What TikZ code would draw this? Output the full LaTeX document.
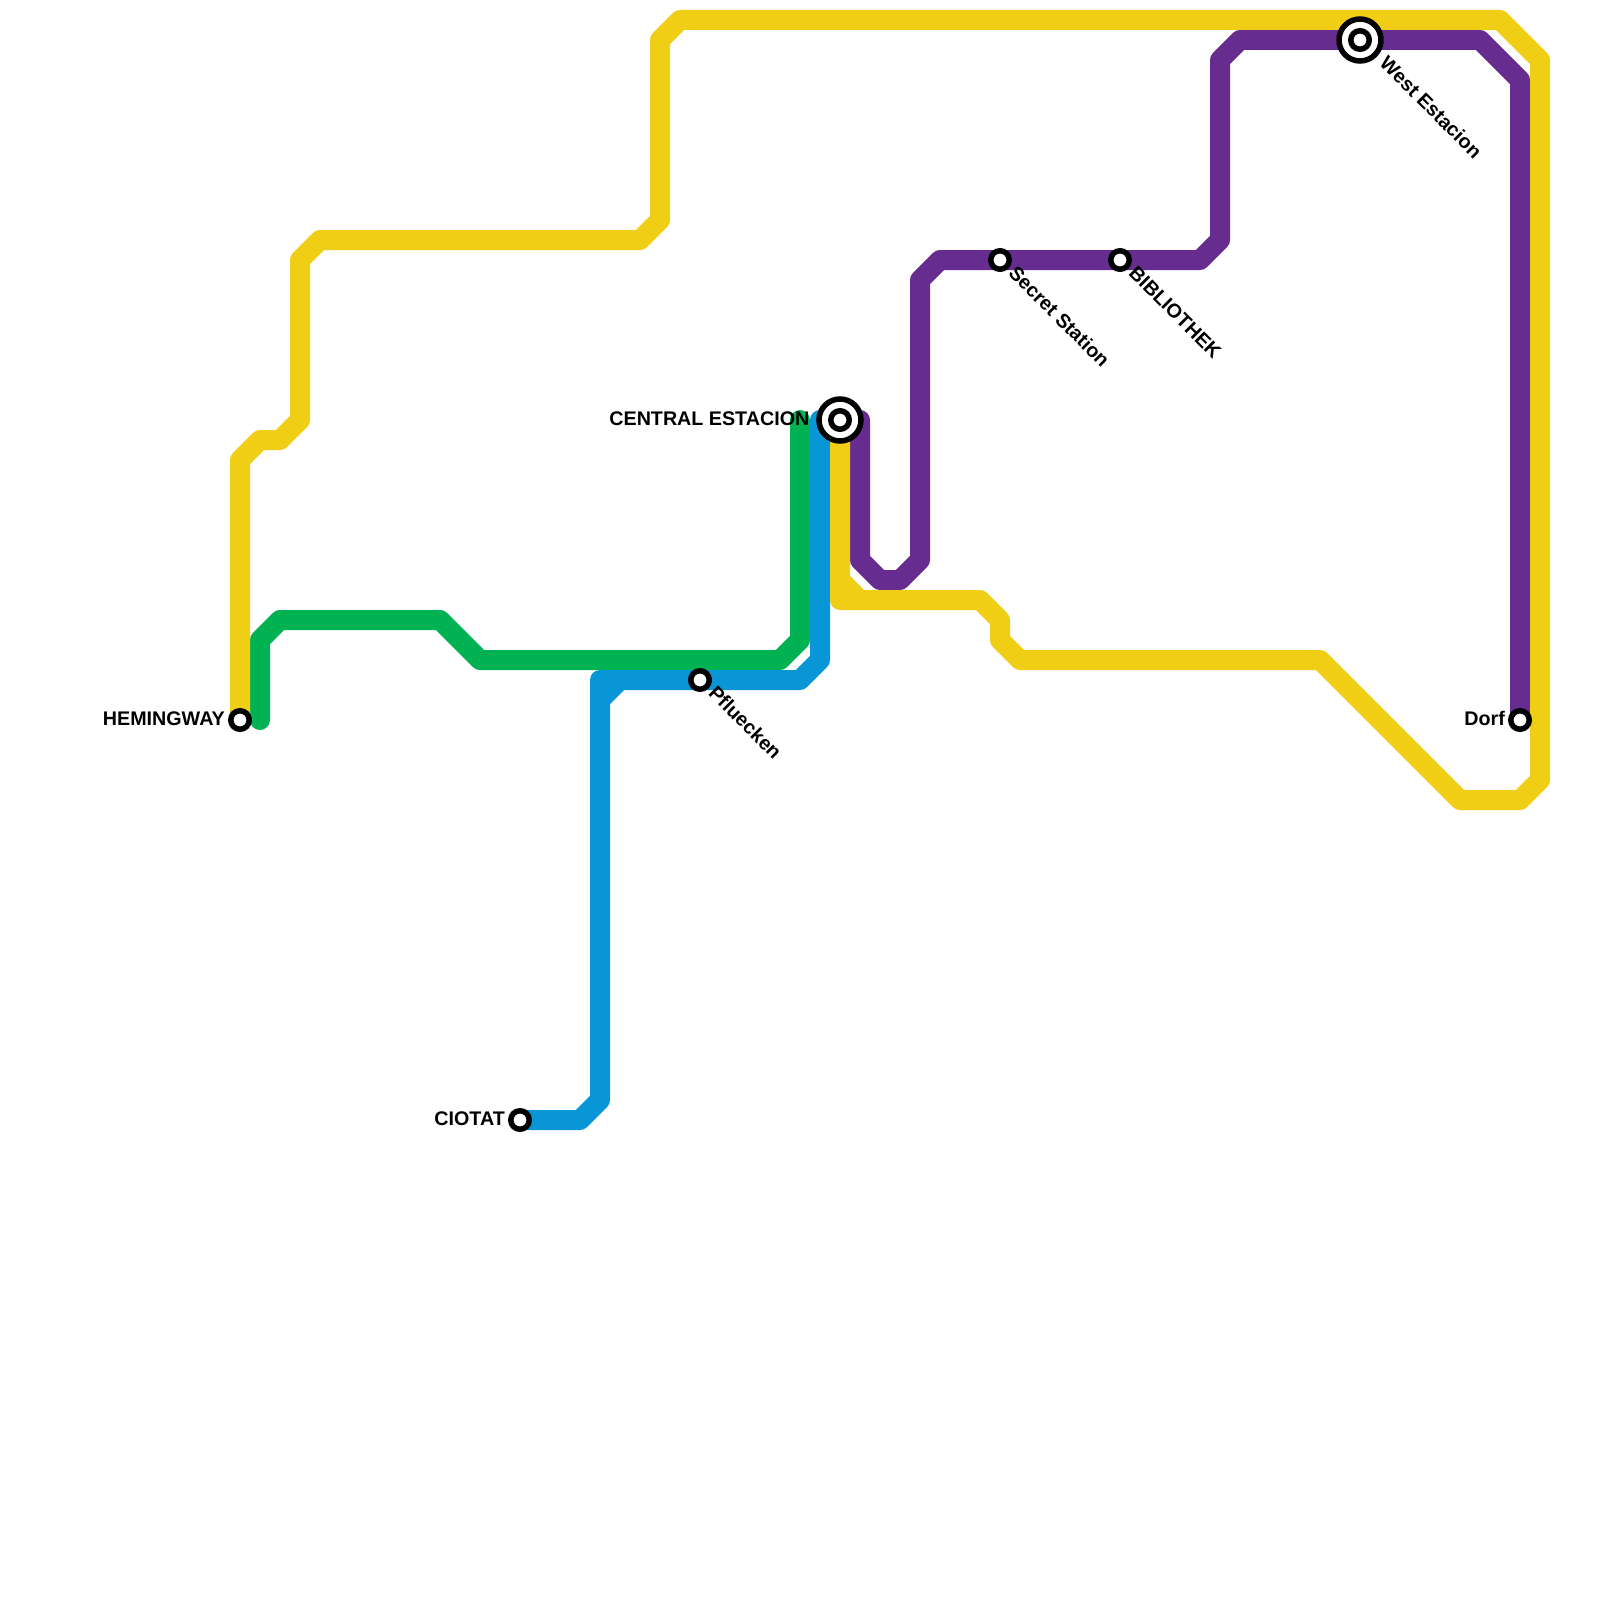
\documentclass[tikz,border=0pt]{standalone}
\usepackage{fontspec}
\setmainfont{Liberation Sans}
\definecolor{lyellow}{HTML}{F0CE15}
\definecolor{lgreen}{HTML}{00B251}
\definecolor{lblue}{HTML}{0896D7}
\definecolor{lpurple}{HTML}{662C90}
\tikzset{
  metro/.style={line width=20pt,line cap=round,line join=round},
  stop/.style={circle,draw=black,fill=white,line width=5.5pt,minimum size=18.5pt,inner sep=0pt,outer sep=0pt},
  hubring/.style={circle,draw=black,fill=white,line width=5.5pt,minimum size=42pt,inner sep=0pt,outer sep=0pt},
  lbl/.style={font=\bfseries\fontsize{19.7}{21}\selectfont,text=black,inner sep=0pt},
  lblleft/.style={lbl,anchor=east},
  lbldiag/.style={lbl,anchor=west,rotate=-45},
}
\begin{document}
\begin{tikzpicture}[x=1pt,y=-1pt]
\useasboundingbox (0,0) rectangle (1600,1600);
\fill[white] (0,0) rectangle (1600,1600);
\coordinate (hem) at (240,720);
\coordinate (cen) at (840,420);
\coordinate (dorf) at (1520,720);
\coordinate (cio) at (520,1120);
\coordinate (pfl) at (700,680);
\coordinate (sec) at (1000,260);
\coordinate (bib) at (1120,260);
\coordinate (wes) at (1360,40);
\coordinate (gs) at (800,420);
\coordinate (ge) at (260,720);
\coordinate (bs) at (820,420);
\coordinate (ps) at (860,420);
% green
\draw[metro,lgreen] (gs) -- (800,640) -- (780,660) -- (480,660) -- (440,620) -- (280,620) -- (260,640) -- (ge);
% blue
\draw[metro,lblue] (bs) -- (820,660) -- (800,680) -- (600,680) -- (600,1100) -- (580,1120) -- (cio);
\draw[metro,lblue,line cap=butt] (600,700) -- (620,680);
% purple
\draw[metro,lpurple] (ps) -- (860,560) -- (880,580) -- (900,580) -- (920,560) -- (920,280) -- (940,260) -- (1200,260) -- (1220,240) -- (1220,60) -- (1240,40) -- (1480,40) -- (1520,80) -- (dorf);
% yellow
\draw[metro,lyellow] (hem) -- (240,460) -- (260,440) -- (280,440) -- (300,420) -- (300,260) -- (320,240) -- (640,240) -- (660,220) -- (660,40) -- (680,20) -- (1500,20) -- (1540,60) -- (1540,780) -- (1520,800) -- (1460,800) -- (1320,660) -- (1020,660) -- (1000,640) -- (1000,620) -- (980,600) -- (840,600) -- (cen);
\draw[metro,lyellow,line cap=butt] (840,580) -- (860,600);
% stations
\node[stop] (nhem) at (hem) {};
\node[stop] (ncio) at (cio) {};
\node[stop] (npfl) at (pfl) {};
\node[stop] (nsec) at (sec) {};
\node[stop] (nbib) at (bib) {};
\node[stop] (ndorf) at (dorf) {};
\node[hubring] (ncenr) at (cen) {};
\node[stop] (ncen) at (cen) {};
\node[hubring] (nwesr) at (wes) {};
\node[stop] (nwes) at (wes) {};
% labels
\node[lblleft] (them) at (225,718.5) {HEMINGWAY};
\node[lblleft] (tcio) at (505,1118.5) {CIOTAT};
\node[lblleft] (tcen) at (809.5,418.5) {CENTRAL ESTACION};
\node[lblleft] (tdorf) at (1505,718) {Dorf};
\node[lbldiag] (tpfl) at (712.5,689.5) {Pfluecken};
\node[lbldiag] (tsec) at (1012.5,269.5) {Secret Station};
\node[lbldiag] (tbib) at (1132.5,269.5) {BIBLIOTHEK};
\node[lbldiag] (twes) at (1383.5,59.5) {West Estacion};
\end{tikzpicture}
\end{document}
